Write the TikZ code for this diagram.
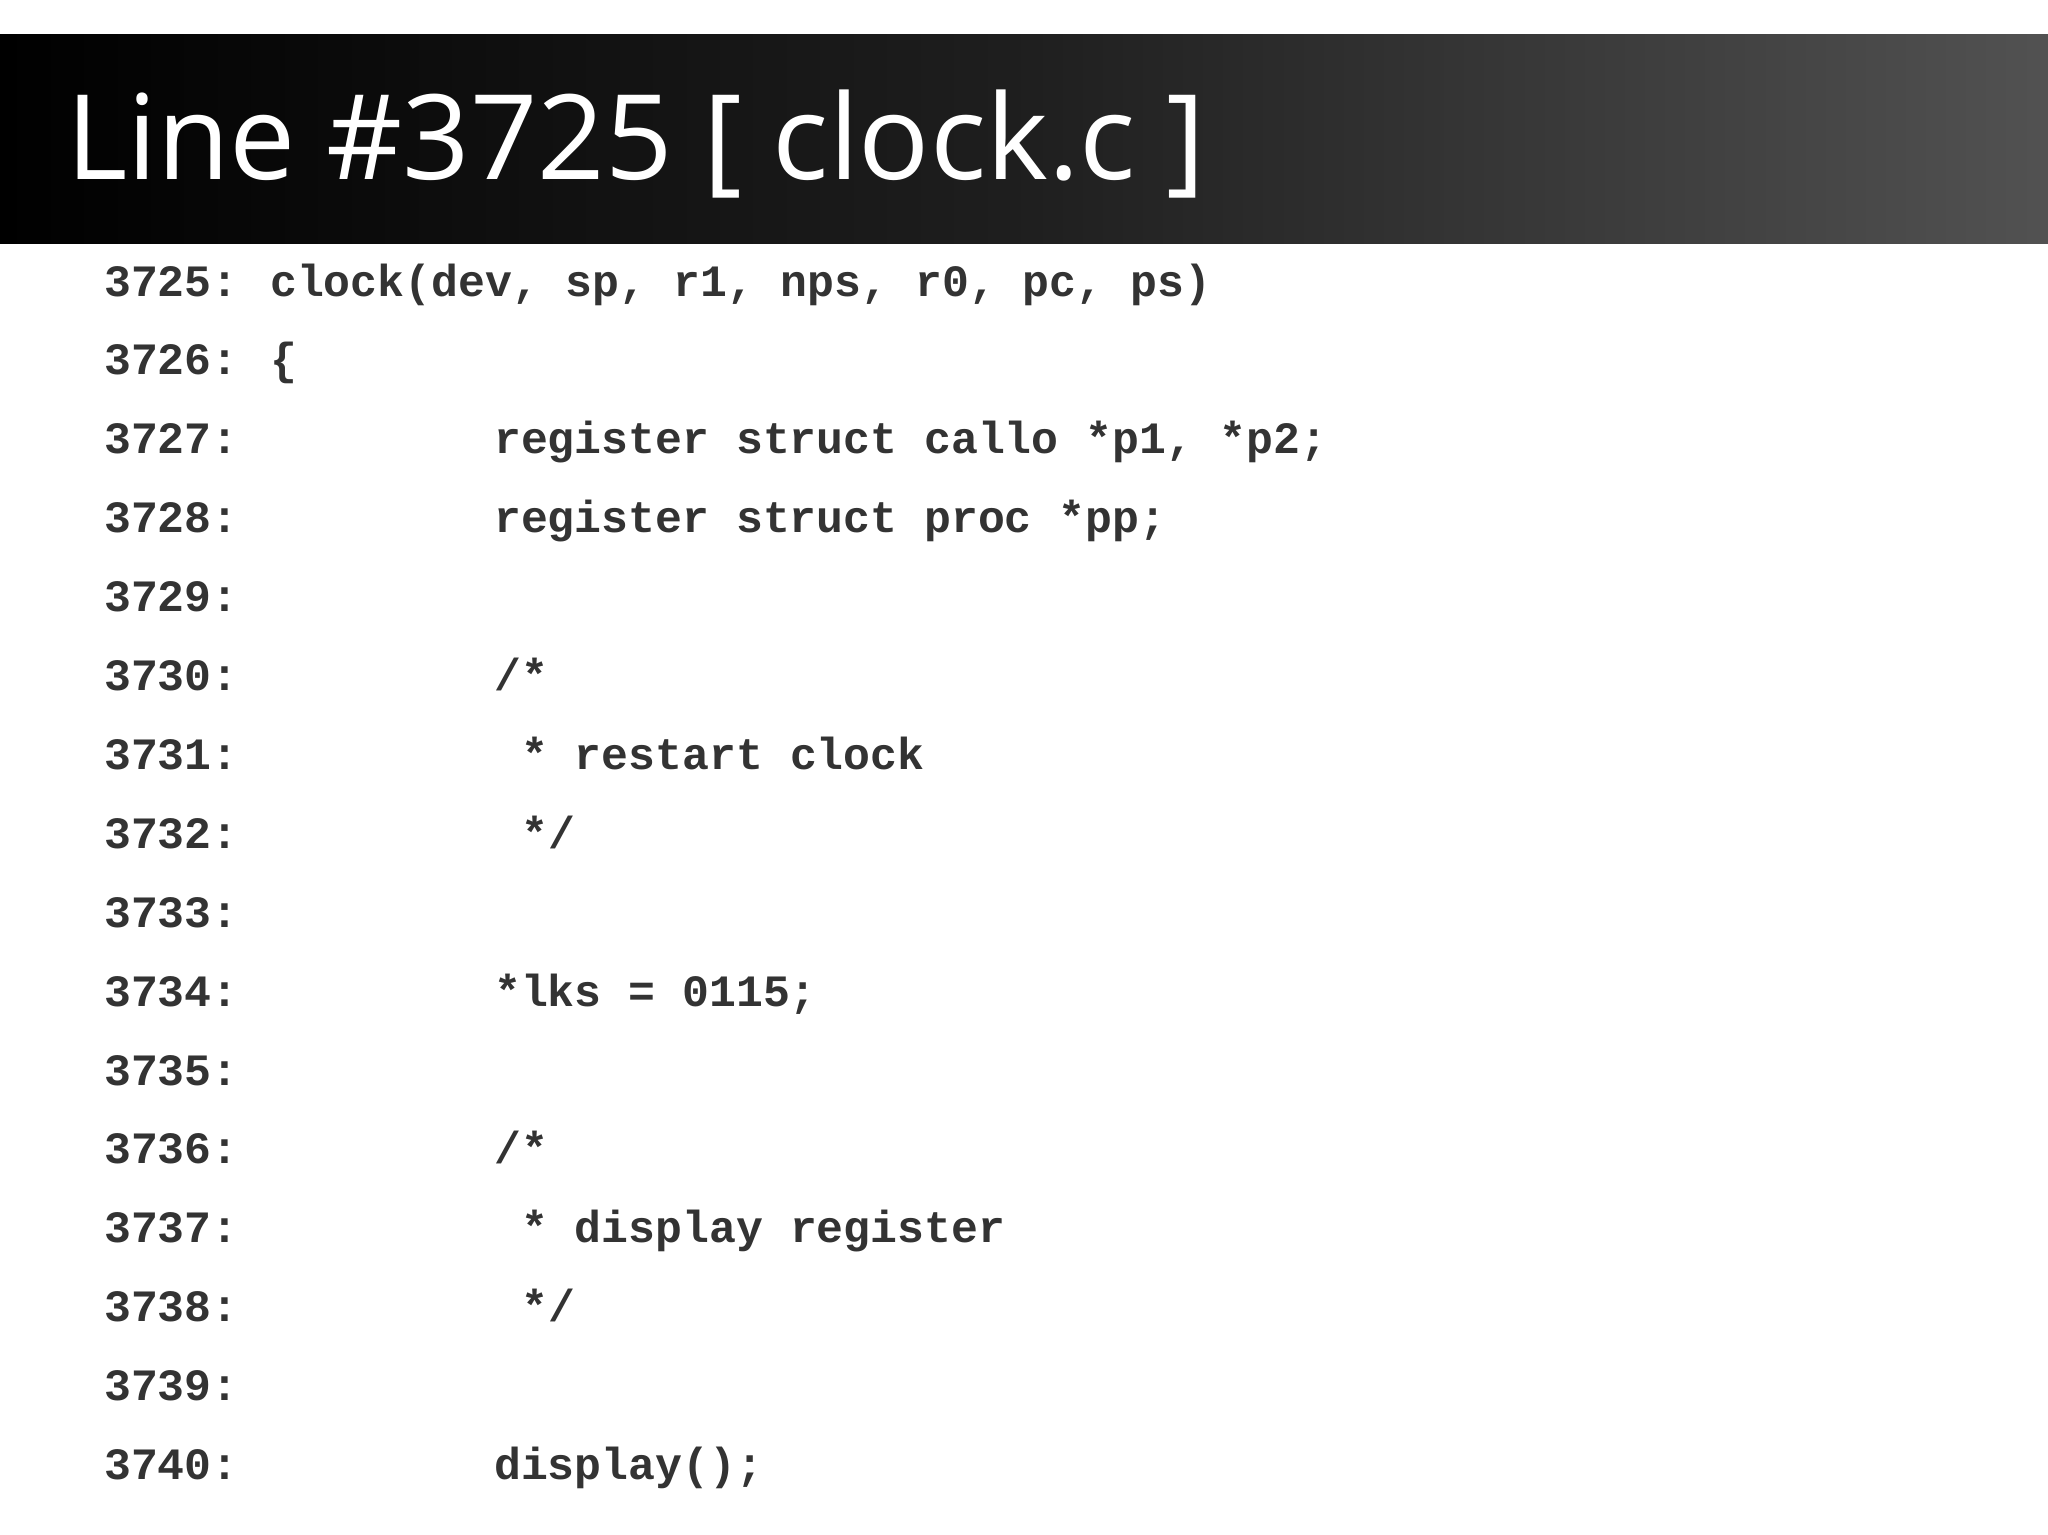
\documentclass[tikz,border=0pt]{standalone}
\usepackage{fontspec}
\setsansfont{Open Sans}
\setmonofont{Liberation Mono}
\definecolor{codec}{HTML}{333333}
\begin{document}
\begin{tikzpicture}[x=1bp,y=-1bp,
  num/.style={anchor=base west,inner sep=0pt,font=\ttfamily\bfseries\fontsize{44.8bp}{50bp}\selectfont,text=codec},
  code/.style={num}]
\useasboundingbox[fill=white] (0,0) rectangle (2048,1535);
\shade[left color=black,right color=black!68!white,middle color=black!88!white] (0,35) rectangle (2048,243);
\node[anchor=base west,inner sep=0pt,text=white,font=\sffamily\fontsize{118bp}{130bp}\selectfont] (title) at (66,180) {Line \#3725 [ clock.c ]};
\def\ly#1{(296+78.9*#1)}
\foreach \i/\n in {0/3725,1/3726,2/3727,3/3728,4/3729,5/3730,6/3731,7/3732,8/3733,9/3734,10/3735,11/3736,12/3737,13/3738,14/3739,15/3740}{
  \node[num] (n\i) at (104,{296+78.9*\i}) {\n:};
}
\node[code] (c0) at (270,296) {clock(dev, sp, r1, nps, r0, pc, ps)};
\node[code] (c1) at (270,{296+78.9}) {\{};
\node[code] (c2) at (494,{296+78.9*2}) {register struct callo *p1, *p2;};
\node[code] (c3) at (494,{296+78.9*3}) {register struct proc *pp;};
\node[code] (c5) at (494,{296+78.9*5}) {/*};
\node[code] (c6) at (521,{296+78.9*6}) {* restart clock};
\node[code] (c7) at (521,{296+78.9*7}) {*/};
\node[code] (c9) at (494,{296+78.9*9}) {*lks = 0115;};
\node[code] (c11) at (494,{296+78.9*11}) {/*};
\node[code] (c12) at (521,{296+78.9*12}) {* display register};
\node[code] (c13) at (521,{296+78.9*13}) {*/};
\node[code] (c15) at (494,{296+78.9*15}) {display();};
\end{tikzpicture}
\end{document}
